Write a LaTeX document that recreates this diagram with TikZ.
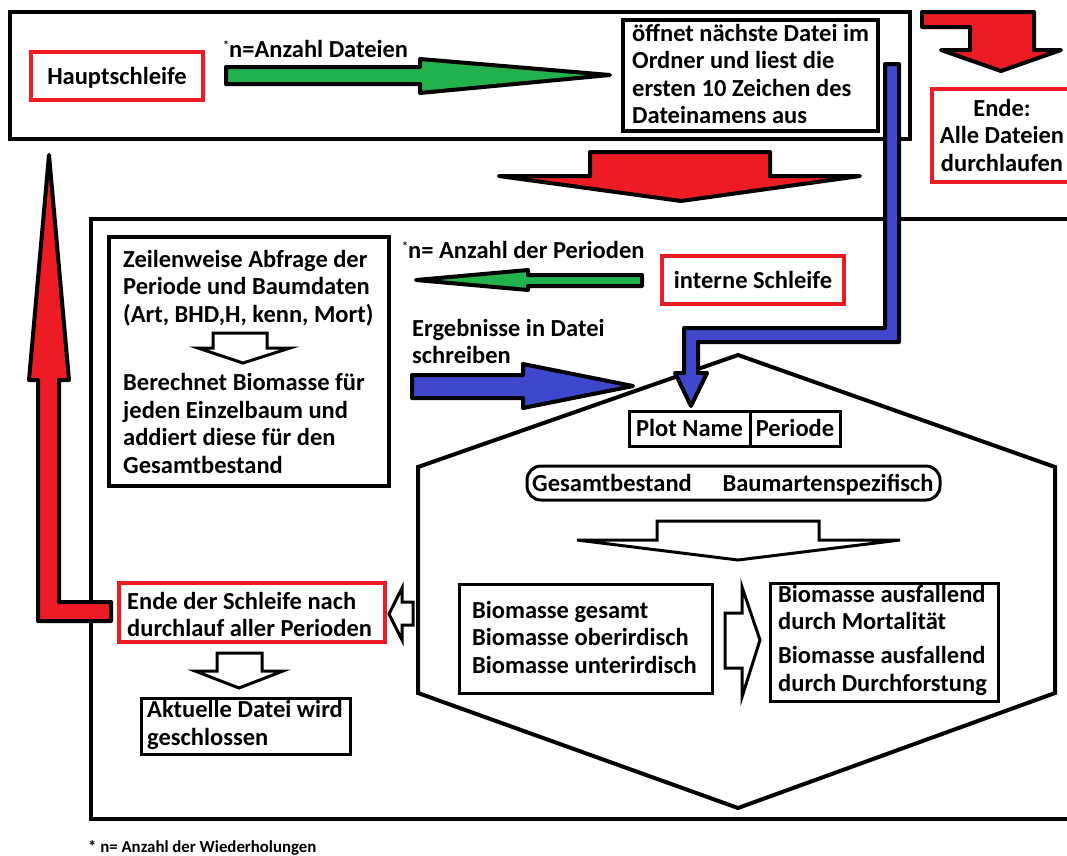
\documentclass[tikz,border=0pt]{standalone}
\usepackage{fontspec}
\setmainfont{Carlito}
\definecolor{pred}{HTML}{ED1C24}
\definecolor{pgreen}{HTML}{22B14C}
\definecolor{pblue}{HTML}{3F48CC}
\newcommand{\smallstar}{\raisebox{8pt}{\fontsize{12}{12}\selectfont *}}
\begin{document}
\begin{tikzpicture}[x=1pt,y=-1pt,
  font=\bfseries\fontsize{24.5}{27.5}\selectfont,
  box/.style={draw=black, line width=3.5pt, inner sep=0pt, outer sep=0pt, anchor=north west},
  bigbox/.style={box, line width=4.5pt},
  thinbox/.style={box, line width=3pt},
  redbox/.style={box, draw=pred},
  txt/.style={inner sep=0pt, anchor=west, align=left},
  ctxt/.style={inner sep=0pt, anchor=center, align=center},
  onetxt/.style={inner sep=0pt, anchor=center, text height=19pt, text depth=3pt},
  blockarrow/.style={draw=black, line width=4pt, line join=round},
  hollow/.style={draw=black, fill=white, line width=3pt, line join=miter}]
\clip (0,0) rectangle (1067,855);
\fill[white] (0,0) rectangle (1067,855);

% ---------- boxes ----------
\node[bigbox, minimum width=900pt, minimum height=127pt] (top) at (10,12) {};
\node[bigbox, minimum width=1009pt, minimum height=600pt] (lower) at (91,219) {};
\node[redbox, minimum width=172pt, minimum height=48pt] (haupt) at (31,52) {};
\node[box, line width=4pt, minimum width=255pt, minimum height=111pt] (oeff) at (623,20) {};
\node[redbox, minimum width=158pt, minimum height=93pt] (ende) at (932,89) {};
\node[box, line width=4pt, minimum width=280pt, minimum height=249pt] (zeil) at (109,237) {};
\node[redbox, minimum width=182pt, minimum height=48pt] (intern) at (662,256) {};
\node[thinbox, minimum width=121pt, minimum height=35pt] (plot) at (629,411) {};
\node[thinbox, minimum width=90pt, minimum height=35pt] (periode) at (750,411) {};
\node[thinbox, rounded corners=14pt, minimum width=413pt, minimum height=34pt] (pill) at (527,466) {};
\node[thinbox, minimum width=253pt, minimum height=109pt] (biomA) at (459,584) {};
\node[thinbox, minimum width=228pt, minimum height=118pt] (biomB) at (770,583) {};
\node[redbox, minimum width=266pt, minimum height=59pt] (endeS) at (119,583) {};
\node[thinbox, minimum width=209pt, minimum height=56pt] (aktuell) at (141,698) {};

% hexagon
\draw[line width=4pt, line join=miter] (738,355) -- (1055,467) -- (1055,693) -- (738,808) -- (418,693) -- (418,467) -- cycle;

% ---------- texts ----------
\node[onetxt] (tHaupt) at (haupt.center) {Hauptschleife};
\node[txt] (tAnzD) at (223,49) {\smallstar n=Anzahl Dateien};
\node[txt] (tOeff) at (632,74) {öffnet nächste Datei im\\Ordner und liest die\\ersten 10 Zeichen des\\Dateinamens aus};
\node[ctxt] (tEnde) at (1002,135) {Ende:\\Alle Dateien\\durchlaufen};
\node[txt] (tZeil) at (123,288) {Zeilenweise Abfrage der\\Periode und Baumdaten\\(Art, BHD,H, kenn, Mort)};
\node[txt] (tBer) at (123,423.5) {Berechnet Biomasse für\\jeden Einzelbaum und\\addiert diese für den\\Gesamtbestand};
\node[txt] (tAnzP) at (402,250) {\smallstar n= Anzahl der Perioden};
\node[onetxt] (tIntern) at (intern.center) {interne Schleife};
\node[txt] (tErg) at (412,341.5) {Ergebnisse in Datei\\schreiben};
\node[onetxt] (tPlot) at (plot.center) {Plot Name};
\node[onetxt] (tPer) at (periode.center) {Periode};
\node[onetxt] (tGes) at (612,483) {Gesamtbestand};
\node[onetxt] (tBaum) at (828,483) {Baumartenspezifisch};
\node[txt] (tBiomA) at (472,637) {Biomasse gesamt\\Biomasse oberirdisch\\Biomasse unterirdisch};
\node[txt] (tBiomB1) at (778,607.5) {Biomasse ausfallend\\durch Mortalität};
\node[txt] (tBiomB2) at (778,671) {Biomasse ausfallend\\durch Durchforstung};
\node[txt] (tEndeS) at (127,614.5) {Ende der Schleife nach\\durchlauf aller Perioden};
\node[txt] (tAkt) at (147,725) {Aktuelle Datei wird\\geschlossen};
\node[txt, font=\bfseries\fontsize{16.8}{18}\selectfont] (tFoot) at (88,848) {* n= Anzahl der Wiederholungen};

% ---------- hollow arrows ----------
\draw[hollow] (213,333) -- (267,333) -- (267,348) -- (290,348) -- (243,363) -- (198,348) -- (213,348) -- cycle;
\draw[hollow] (657,521) -- (819,521) -- (819,540) -- (900,540) -- (738,560) -- (577,540) -- (657,540) -- cycle;
\draw[hollow] (725,613) -- (742,613) -- (742,587) -- (760,640) -- (742,697) -- (742,668) -- (725,668) -- cycle;
\draw[hollow] (413,602) -- (402,602) -- (402,588) -- (389,614) -- (402,640) -- (402,625) -- (413,625) -- cycle;
\draw[hollow] (217,653) -- (262,653) -- (262,671) -- (283,671) -- (239,688) -- (195,671) -- (217,671) -- cycle;

% ---------- block arrows ----------
\draw[blockarrow, fill=pgreen] (226,67) -- (420,67) -- (420,59) -- (610,75) -- (420,93) -- (420,84) -- (226,84) -- cycle;
\draw[blockarrow, fill=pgreen] (642,275) -- (528,275) -- (528,270) -- (416,280) -- (528,290) -- (528,286) -- (642,286) -- cycle;
\draw[blockarrow, fill=pblue] (412,375) -- (523,375) -- (523,364) -- (633,386) -- (523,408) -- (523,398) -- (412,398) -- cycle;
\draw[blockarrow, fill=pred] (590,152) -- (770,152) -- (770,176) -- (860,176) -- (681,201) -- (499,176) -- (590,176) -- cycle;
\draw[blockarrow, fill=pred] (922,12) -- (1034,12) -- (1034,50) -- (1061,50) -- (1001,71) -- (941,50) -- (970,50) -- (970,27) -- (922,27) -- cycle;
\draw[blockarrow, fill=pred] (38,621) -- (111,621) -- (111,602) -- (59,602) -- (59,380) -- (69,380) -- (49,155) -- (29,380) -- (38,380) -- cycle;
\draw[blockarrow, fill=pblue] (885,64) -- (899,64) -- (899,342) -- (698,342) -- (698,373) -- (707,373) -- (691,406) -- (675,373) -- (684,373) -- (684,328) -- (885,328) -- cycle;
\end{tikzpicture}
\end{document}
